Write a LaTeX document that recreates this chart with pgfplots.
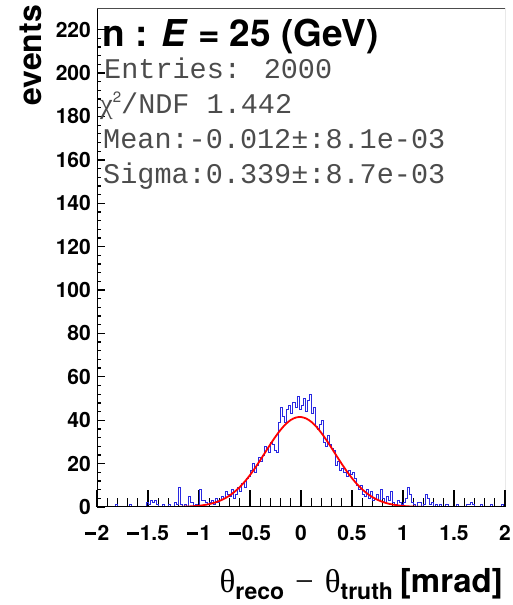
\documentclass[border=0pt]{standalone}
\usepackage{pgfplots}
\pgfplotsset{compat=1.18}
\usepackage{fontspec}
\setmainfont{TeX Gyre Heros}
\newfontfamily\monofont{Liberation Mono}
\newfontfamily\symfont{Liberation Serif}
\definecolor{histblue}{RGB}{40,40,225}
\newcommand\mymin{\rule[0.26em]{0.55em}{0.1em}\kern0.06em}
\pgfplotsset{
  base/.style={
    scale only axis, width=408pt, height=499pt,
    xmin=-2, xmax=2, ymin=0, ymax=230,
    at={(0pt,0pt)}, anchor=south west,
    axis line style={draw=none},
    tick align=inside,
    tick style={black, line width=1.3pt},
    /pgf/number format/assume math mode=true,
  }
}
\begin{document}
\begin{tikzpicture}
\useasboundingbox (-97pt,-98pt) rectangle (416pt,507pt);
% x ticks axis
\begin{axis}[base,
  xtick={-2,-1.5,-1,-0.5,0,0.5,1,1.5,2},
  xticklabels={\mymin2,\mymin1.5,\mymin1,\mymin0.5,0,0.5,1,1.5,2},
  minor x tick num=4, xtick pos=bottom, ytick=\empty,
  major tick length=17pt, minor tick length=8.5pt,
  xticklabel style={font=\fontsize{21}{21}\selectfont\bfseries, anchor=base, yshift=-33pt, inner sep=0pt},
]
\end{axis}
% y ticks axis with data
\begin{axis}[base,
  ytick={0,20,...,220}, minor y tick num=4, ytick pos=left, xtick=\empty,
  major tick length=8pt, minor tick length=4pt,
  yticklabel style={font=\fontsize{21}{21}\selectfont\bfseries, anchor=east, inner sep=0pt, xshift=-6pt},
]
\addplot[const plot mark left, histblue, line width=0.75pt] coordinates {
(-2.00,0) (-1.98,0) (-1.96,0) (-1.94,0) (-1.92,0) (-1.90,0) (-1.88,0) (-1.86,0) (-1.84,0) (-1.82,1)
(-1.80,0) (-1.78,0) (-1.76,0) (-1.74,0) (-1.72,0) (-1.70,0) (-1.68,1) (-1.66,0) (-1.64,0) (-1.62,0)
(-1.60,0) (-1.58,0) (-1.56,0) (-1.54,0) (-1.52,2) (-1.50,1) (-1.48,3) (-1.46,2) (-1.44,3) (-1.42,1)
(-1.40,0) (-1.38,0) (-1.36,1) (-1.34,0) (-1.32,0) (-1.30,1) (-1.28,0) (-1.26,0) (-1.24,2) (-1.22,1)
(-1.20,9) (-1.18,1) (-1.16,0) (-1.14,1) (-1.12,0) (-1.10,5) (-1.08,2) (-1.06,0) (-1.04,1) (-1.02,0)
(-1.00,8) (-0.98,3) (-0.96,3) (-0.94,2) (-0.92,1) (-0.90,2) (-0.88,3) (-0.86,1) (-0.84,4) (-0.82,2)
(-0.80,3) (-0.78,5) (-0.76,4) (-0.74,7) (-0.72,6) (-0.70,5) (-0.68,8) (-0.66,4) (-0.64,6) (-0.62,9)
(-0.60,7) (-0.58,11) (-0.56,9) (-0.54,13) (-0.52,14) (-0.50,17) (-0.48,20) (-0.46,16) (-0.44,19) (-0.42,23)
(-0.40,21) (-0.38,24) (-0.36,28) (-0.34,27) (-0.32,25) (-0.30,30) (-0.28,29) (-0.26,26) (-0.24,25) (-0.22,39)
(-0.20,46) (-0.18,42) (-0.16,39) (-0.14,45) (-0.12,47) (-0.10,43) (-0.08,48) (-0.06,46) (-0.04,51) (-0.02,45)
(0.00,47) (0.02,50) (0.04,44) (0.06,49) (0.08,52) (0.10,43) (0.12,46) (0.14,37) (0.16,36) (0.18,38)
(0.20,40) (0.22,30) (0.24,28) (0.26,33) (0.28,29) (0.30,27) (0.32,26) (0.34,19) (0.36,21) (0.38,17)
(0.40,18) (0.42,16) (0.44,14) (0.46,17) (0.48,15) (0.50,16) (0.52,13) (0.54,10) (0.56,8) (0.58,10)
(0.60,6) (0.62,5) (0.64,8) (0.66,4) (0.68,7) (0.70,3) (0.72,4) (0.74,6) (0.76,3) (0.78,8)
(0.80,4) (0.82,2) (0.84,5) (0.86,3) (0.88,7) (0.90,2) (0.92,1) (0.94,3) (0.96,2) (0.98,1)
(1.00,2) (1.02,4) (1.04,9) (1.06,6) (1.08,2) (1.10,1) (1.12,0) (1.14,2) (1.16,2) (1.18,0)
(1.20,1) (1.22,6) (1.24,4) (1.26,1) (1.28,2) (1.30,0) (1.32,1) (1.34,0) (1.36,1) (1.38,0)
(1.40,0) (1.42,1) (1.44,0) (1.46,0) (1.48,0) (1.50,0) (1.52,1) (1.54,0) (1.56,0) (1.58,0)
(1.60,0) (1.62,1) (1.64,1) (1.66,2) (1.68,1) (1.70,0) (1.72,0) (1.74,0) (1.76,1) (1.78,0)
(1.80,0) (1.82,0) (1.84,0) (1.86,1) (1.88,0) (1.90,0) (1.92,0) (1.94,0) (1.96,1) (1.98,0)
(2.00,0)
};
\addplot[red, line width=1.8pt, smooth] coordinates {
(-1.20,0.09) (-1.15,0.15) (-1.10,0.24) (-1.05,0.38) (-1.00,0.59) (-0.95,0.90) (-0.90,1.34) (-0.85,1.96)
(-0.80,2.79) (-0.75,3.88) (-0.70,5.30) (-0.65,7.07) (-0.60,9.21) (-0.55,11.78) (-0.50,14.72) (-0.45,18.00)
(-0.40,21.55) (-0.35,25.25) (-0.30,28.92) (-0.25,32.43) (-0.20,35.57) (-0.15,38.20) (-0.10,40.13) (-0.05,41.24)
(0.00,41.47) (0.05,40.81) (0.10,39.30) (0.15,37.02) (0.20,34.12) (0.25,30.78) (0.30,27.18) (0.35,23.46)
(0.40,19.84) (0.45,16.39) (0.50,13.27) (0.55,10.50) (0.60,8.14) (0.65,6.16) (0.70,4.58) (0.75,3.32)
(0.80,2.36) (0.85,1.63) (0.90,1.11) (0.95,0.74) (1.00,0.48) (1.05,0.31) (1.10,0.19) (1.15,0.12) (1.20,0.07)
};
\draw[line width=1.5pt, black] (rel axis cs:0,1) -- (rel axis cs:0,0) -- (rel axis cs:1,0);
\draw[line width=0.7pt, black!70] (rel axis cs:0,1) -- (rel axis cs:1,1) -- (rel axis cs:1,0);
\end{axis}
% texts
\node[anchor=base west, inner sep=0pt] at (5pt,460pt) {\fontsize{37}{37}\selectfont\bfseries n : \textit{E} = 25 (GeV)};
\node[anchor=base west, inner sep=0pt, text=black!70] at (7pt,428pt) {\monofont\fontsize{28.5}{28.5}\selectfont Entries: 2000};
\node[anchor=base west, inner sep=0pt, text=black!70] at (3pt,393pt) {\fontsize{28.5}{28.5}\selectfont{\symfont χ}\raisebox{11pt}{\fontsize{15}{15}\selectfont 2}\monofont/NDF 1.442};
\node[anchor=base west, inner sep=0pt, text=black!70] at (6pt,358pt) {\monofont\fontsize{28.5}{28.5}\selectfont Mean:-0.012±:8.1e-03};
\node[anchor=base west, inner sep=0pt, text=black!70] at (6pt,323pt) {\monofont\fontsize{28.5}{28.5}\selectfont Sigma:0.339±:8.7e-03};
\node[anchor=base east, inner sep=0pt, rotate=90] at (-55pt,502pt) {\fontsize{32}{32}\selectfont\bfseries events};
\node[anchor=base east, inner sep=0pt] at (406pt,-85pt) {\fontsize{33}{33}\selectfont{\symfont θ}\raisebox{-7pt}{\fontsize{23}{23}\selectfont\bfseries reco}\hspace{11pt}{\symfont −}\hspace{11pt}{\symfont θ}\raisebox{-7pt}{\fontsize{23}{23}\selectfont\bfseries truth}\hspace{7pt}\textbf{[mrad]}};
\end{tikzpicture}
\end{document}
